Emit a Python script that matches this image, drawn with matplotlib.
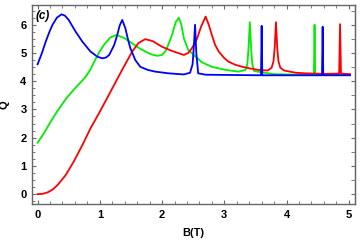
import matplotlib
matplotlib.use('Agg')
from matplotlib import pyplot as plt
from matplotlib.ticker import MultipleLocator

# -- values --

B_red = [0, 0.08, 0.16, 0.24, 0.32, 0.45, 0.58, 0.72, 0.85, 0.985, 1.10, 1.23, 1.37,
         1.52, 1.62, 1.73, 1.85, 2.0, 2.15, 2.27, 2.35, 2.42, 2.48, 2.56, 2.63, 2.70,
         2.75, 2.80, 2.85, 2.91, 3.0, 3.07, 3.18, 3.29, 3.42, 3.55, 3.70, 3.76, 3.79,
         3.81, 3.83, 3.85, 3.87, 3.90, 3.96, 4.15, 4.30, 4.60, 4.845, 4.86, 4.875, 5.02]
Q_red = [0, 0.01, 0.06, 0.16, 0.32, 0.67, 1.15, 1.74, 2.33, 2.86, 3.33, 3.87, 4.45,
         5.05, 5.35, 5.49, 5.42, 5.22, 5.08, 4.99, 4.93, 5.0, 5.17, 5.5, 5.95, 6.29,
         6.0, 5.64, 5.3, 5.05, 4.82, 4.69, 4.58, 4.51, 4.45, 4.40, 4.38, 4.48, 4.7,
         5.2, 6.09, 5.2, 4.7, 4.48, 4.38, 4.30, 4.28, 4.26, 4.27, 6.02, 4.27, 4.25]

B_green = [0, 0.1, 0.2, 0.32, 0.47, 0.61, 0.70, 0.78, 0.85, 0.93, 1.0, 1.07, 1.17,
           1.27, 1.40, 1.52, 1.62, 1.73, 1.83, 1.92, 2.0, 2.06, 2.11, 2.16, 2.22,
           2.27, 2.31, 2.35, 2.42, 2.51, 2.64, 2.80, 3.02, 3.23, 3.34, 3.37, 3.39,
           3.41, 3.43, 3.45, 3.48, 3.79, 4.0, 4.44, 4.45, 4.46, 5.02]
Q_green = [1.82, 2.15, 2.53, 2.95, 3.42, 3.77, 3.98, 4.18, 4.42, 4.78, 5.06, 5.30, 5.55,
           5.64, 5.52, 5.34, 5.19, 5.05, 4.95, 4.90, 4.93, 5.08, 5.35, 5.64, 6.1,
           6.25, 6.0, 5.52, 5.11, 4.93, 4.67, 4.51, 4.40, 4.34, 4.40, 4.6, 5.2,
           6.09, 5.2, 4.6, 4.36, 4.25, 4.24, 4.23, 6.0, 4.23, 4.23]

B_blue = [0, 0.07, 0.13, 0.19, 0.24, 0.31, 0.385, 0.44, 0.5, 0.61, 0.72, 0.85, 0.96,
          1.04, 1.10, 1.15, 1.23, 1.28, 1.32, 1.36, 1.41, 1.45, 1.49, 1.57, 1.65,
          1.77, 1.89, 2.1, 2.35, 2.45, 2.49, 2.51, 2.53, 2.55, 2.58, 2.7, 3.59,
          3.60, 3.61, 4.57, 4.58, 4.59, 5.02]
Q_blue = [4.6, 5.0, 5.40, 5.75, 6.0, 6.25, 6.37, 6.32, 6.17, 5.76, 5.40, 5.05, 4.87,
          4.81, 4.84, 4.93, 5.28, 5.64, 5.98, 6.17, 5.88, 5.5, 5.17, 4.75, 4.51,
          4.40, 4.34, 4.28, 4.24, 4.30, 4.6, 5.2, 6.0, 5.0, 4.28, 4.23, 4.21,
          5.96, 4.21, 4.21, 5.93, 4.21, 4.21]

x_ticks = [0, 1, 2, 3, 4, 5]
y_ticks = [0, 1, 2, 3, 4, 5, 6]

plt.rcParams['font.family'] = ['Liberation Sans', 'DejaVu Sans']
plt.rcParams['font.weight'] = 'bold'

fig = plt.figure(figsize=(3.6, 2.44), dpi=100)
ax = fig.add_axes([32/360, 40/244, 323/360, 199/244])

ax.plot(B_green, Q_green, color='#00ee00', lw=1.3)
ax.plot(B_red, Q_red, color='#ff0000', lw=1.3)
ax.plot(B_blue, Q_blue, color='#0000ff', lw=1.3)

ax.set_xlim(-0.09, 5.1)
ax.set_ylim(-0.35, 6.7)
ax.set_xticks(x_ticks)
ax.set_yticks(y_ticks)
ax.xaxis.set_minor_locator(MultipleLocator(0.2))
ax.yaxis.set_minor_locator(MultipleLocator(0.25))

frame = '#666666'
for s in ax.spines.values():
    s.set_color(frame)
    s.set_linewidth(1.0)
ax.tick_params(which='both', direction='in', color=frame, top=True, right=False,
               labelsize=8, labelcolor='black')
ax.tick_params(axis='x', which='major', length=3, pad=4)
ax.tick_params(axis='y', which='major', length=3, pad=4)
ax.tick_params(which='minor', length=2)
for lbl in ax.get_xticklabels() + ax.get_yticklabels():
    lbl.set_fontweight('bold')

# right side has its own coarser ticks
sec = ax.secondary_yaxis('right')
sec.set_yticks(y_ticks)
sec.yaxis.set_minor_locator(MultipleLocator(0.5))
sec.tick_params(which='both', direction='in', color=frame, length=3, labelright=False)
sec.spines['right'].set_color(frame)

ax.set_xlabel('B(T)', fontsize=8, fontweight='bold', labelpad=6)
ax.set_ylabel('Q', fontsize=8, fontweight='bold', rotation=90, labelpad=8)
ax.text(0.012, 0.975, '(c)', transform=ax.transAxes, fontsize=8.5,
        fontweight='bold', fontstyle='italic', va='top', ha='left')

fig.savefig('out.png', dpi=100)
